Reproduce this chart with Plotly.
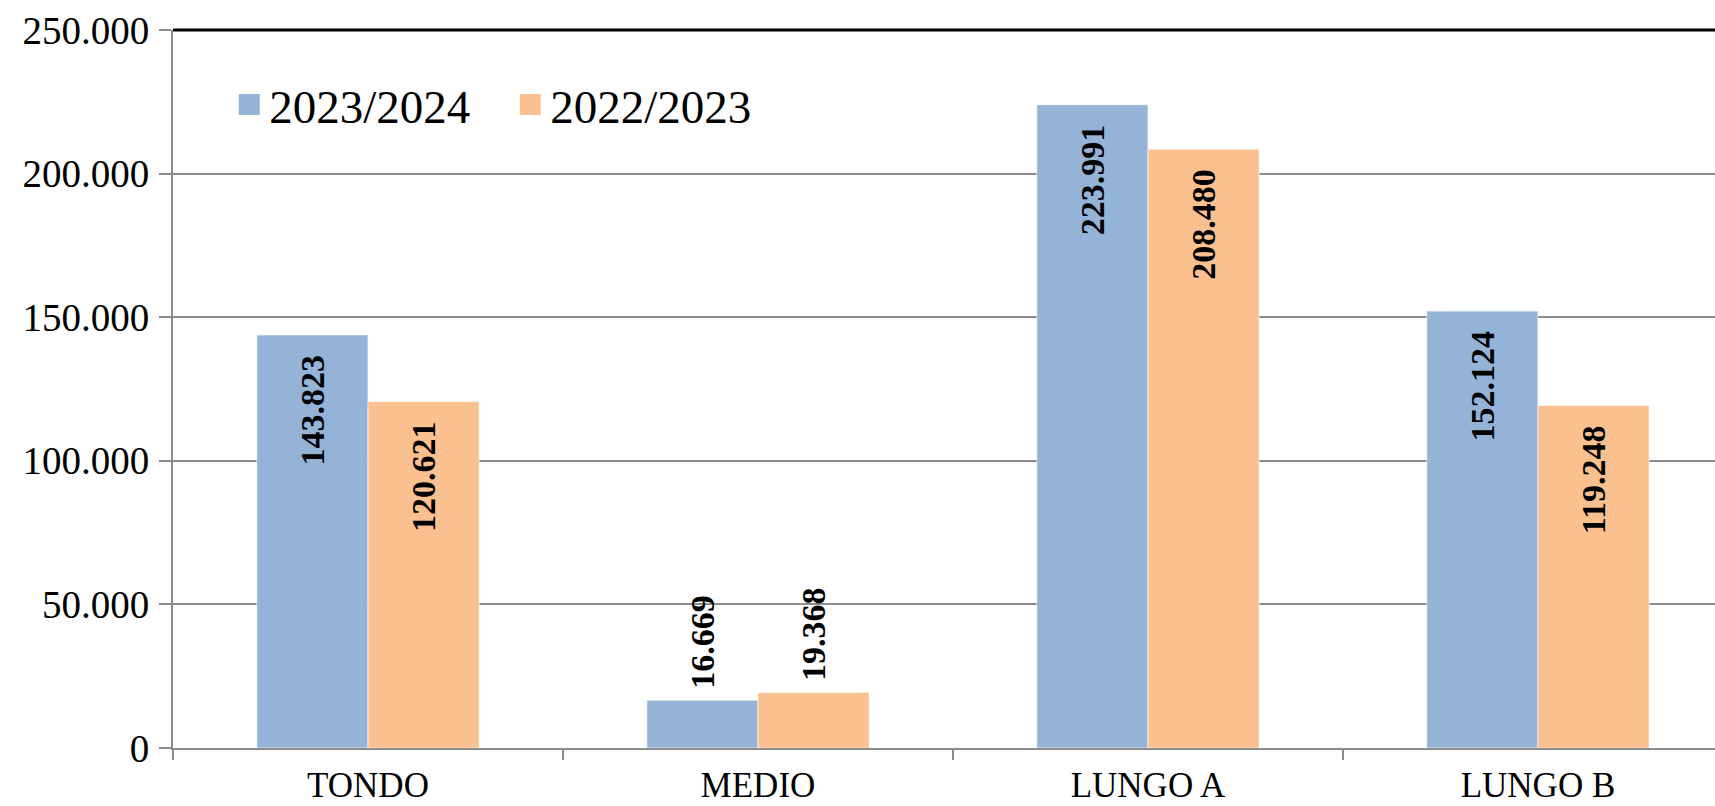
import plotly.graph_objects as go

categories = ["TONDO", "MEDIO", "LUNGO A", "LUNGO B"]
series_names = ["2023/2024", "2022/2023"]
values_2324 = [143823, 16669, 223991, 152124]
values_2223 = [120621, 19368, 208480, 119248]
label_positions = ["inside", "outside", "inside", "inside"]
colors = ["#95B3D7", "#FAC090"]

FONT = "Liberation Serif"
W, H = 1715, 806

def templates(positions):
    return [("%{y:,.0f}\u00a0\u00a0") if p == "inside" else ("\u00a0%{y:,.0f}") for p in positions]

fig = go.Figure()
for name, vals, col in zip(series_names, [values_2324, values_2223], colors):
    fig.add_trace(go.Bar(
        x=categories, y=vals, name=name, showlegend=False,
        marker=dict(color=col, line=dict(color="rgba(255,255,255,0.6)", width=1)),
        texttemplate=templates(label_positions),
        textposition=label_positions,
        insidetextanchor="end",
        textangle=-90,
        textfont=dict(family=FONT, size=34, color="black", weight="bold"),
        cliponaxis=False,
    ))
    # legend entry with a larger square swatch
    fig.add_trace(go.Scatter(
        x=[None], y=[None], name=name, mode="markers",
        marker=dict(symbol="square", size=22, color=col, line=dict(color=col, width=5)),
    ))

fig.update_layout(
    width=W, height=H,
    margin=dict(l=173, r=0, t=30, b=58, autoexpand=False),
    paper_bgcolor="white", plot_bgcolor="white",
    separators=",.",
    barmode="group", bargap=0.43, bargroupgap=0,
    font=dict(family=FONT, size=36, color="black"),
    showlegend=True,
    legend=dict(orientation="h", x=0.0365, y=0.8955, yanchor="middle", xanchor="left",
                font=dict(family=FONT, size=47), bgcolor="rgba(0,0,0,0)",
                itemsizing="trace", itemwidth=30, entrywidth=236),
)
fig.update_xaxes(
    range=[-0.5, 3.454], showgrid=False, showline=True, linecolor="#8c8c8c", linewidth=2,
    ticks="outside", tickson="boundaries", ticklen=10, tickwidth=2, tickcolor="#8c8c8c",
    tickfont=dict(family=FONT, size=35), fixedrange=True, ticklabelstandoff=5,
    automargin=False,
)
fig.update_yaxes(
    range=[0, 250000], dtick=50000, tickformat=",.0f",
    showgrid=True, gridcolor="#8c8c8c", gridwidth=2,
    showline=True, linecolor="#8c8c8c", linewidth=2,
    ticks="outside", ticklen=12, tickwidth=2, tickcolor="#8c8c8c",
    tickfont=dict(family=FONT, size=39), zeroline=False, ticklabelstandoff=2,
    automargin=False,
)
fig.add_shape(type="line", xref="paper", yref="paper", x0=0, x1=1, y0=1, y1=1,
              line=dict(color="black", width=3))

fig.write_html("out.html", config={"displayModeBar": False},
               post_script="document.body.style.margin='0';document.body.style.overflow='hidden';")
